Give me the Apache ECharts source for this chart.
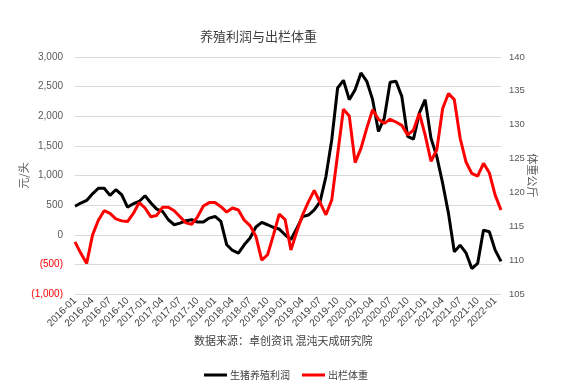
<!DOCTYPE html>
<html>
<head>
<meta charset="utf-8">
<script src="https://cdn.jsdelivr.net/npm/echarts@6/dist/echarts.min.js"></script>
<style>html,body{margin:0;padding:0;background:#fff}#c{width:576px;height:385px}</style>
</head>
<body>
<div id="c"></div>
<script>
const months = [
'2016-01','2016-02','2016-03','2016-04','2016-05','2016-06','2016-07','2016-08','2016-09','2016-10','2016-11','2016-12',
'2017-01','2017-02','2017-03','2017-04','2017-05','2017-06','2017-07','2017-08','2017-09','2017-10','2017-11','2017-12',
'2018-01','2018-02','2018-03','2018-04','2018-05','2018-06','2018-07','2018-08','2018-09','2018-10','2018-11','2018-12',
'2019-01','2019-02','2019-03','2019-04','2019-05','2019-06','2019-07','2019-08','2019-09','2019-10','2019-11','2019-12',
'2020-01','2020-02','2020-03','2020-04','2020-05','2020-06','2020-07','2020-08','2020-09','2020-10','2020-11','2020-12',
'2021-01','2021-02','2021-03','2021-04','2021-05','2021-06','2021-07','2021-08','2021-09','2021-10','2021-11','2021-12',
'2022-01','2022-02'];
const profit = [
480,535,580,690,785,785,665,760,675,467,523,562,
658,535,433,393,253,169,197,236,253,214,214,281,
309,225,-169,-265,-309,-169,-56,130,208,169,123,96,
0,-80,107,305,333,418,559,982,1603,2477,2607,2280,
2449,2731,2590,2280,1744,1969,2573,2590,2336,1659,1614,2054,
2280,1631,1321,869,361,-288,-175,-305,-570,-485,79,51,
-260,-450];
const weight = [
112.7,111.0,109.5,113.7,115.9,117.3,116.9,116.1,115.8,115.7,116.9,118.5,
117.7,116.4,116.6,117.8,117.8,117.3,116.4,115.5,115.3,116.4,118.0,118.5,
118.5,117.9,117.1,117.7,117.4,115.9,115.1,113.5,110.0,110.8,113.7,116.8,
116.0,111.5,114.2,116.7,118.6,120.3,118.5,116.7,118.9,125.6,132.3,131.3,
124.4,126.5,129.5,132.2,130.8,130.2,130.8,130.4,129.9,128.5,129.2,131.7,
128.5,124.6,126.3,132.4,134.6,133.7,128.0,124.5,122.8,122.4,124.3,122.9,
119.6,117.4];
const seriesNames = ['生猪养殖利润','出栏体重'];
const titleText = '养殖利润与出栏体重';
const sourceText = '数据来源：卓创资讯 混沌天成研究院';

const cjk = '"Noto Sans CJK SC", sans-serif';
const num = '"Liberation Sans", Arial, sans-serif';
const chart = echarts.init(document.getElementById('c'), null, {renderer:'canvas'});
chart.setOption({
  animation:false,
  title:{text:titleText,left:195,top:25,textStyle:{fontFamily:cjk,fontSize:13,fontWeight:'normal',color:'#404040'}},
  graphic:[{type:'text',left:194,top:335,style:{text:sourceText,font:'11px "Noto Sans CJK SC"',fill:'#404040'}}],
  legend:{left:199,top:365,itemWidth:23,itemHeight:3,itemGap:12,icon:'rect',
    textStyle:{fontFamily:cjk,fontSize:10,color:'#404040',padding:[0,0,0,-2]},
    data:seriesNames},
  grid:{left:75,right:75,top:57,bottom:91,containLabel:false},
  xAxis:{type:'category',data:months,boundaryGap:false,
    axisLine:{show:false},axisTick:{show:false},splitLine:{show:false},
    axisLabel:{interval:2,rotate:45,margin:5,fontFamily:num,fontSize:10,color:'#404040'}},
  yAxis:[
    {type:'value',min:-1000,max:3000,interval:500,position:'left',
     name:'元/头',nameLocation:'middle',nameGap:46,nameMoveOverlap:false,
     nameTextStyle:{fontFamily:cjk,fontSize:11,color:'#595959'},
     axisLine:{show:false},axisTick:{show:false},
     splitLine:{lineStyle:{color:'#d9d9d9',width:1}},
     axisLabel:{margin:12,fontFamily:num,fontSize:10,color:'#595959',
       formatter:function(v){
         const s=Math.abs(v).toLocaleString('en-US');
         return v<0?'{neg|('+s+')}':s;
       },
       rich:{neg:{color:'#ff0000',fontFamily:num,fontSize:10}}}},
    {type:'value',min:105,max:140,interval:5,position:'right',
     name:'体重公斤',nameLocation:'middle',nameGap:26,nameRotate:-90,nameMoveOverlap:false,
     nameTextStyle:{fontFamily:cjk,fontSize:11,color:'#595959'},
     axisLine:{show:false},axisTick:{show:false},splitLine:{show:false},
     axisLabel:{margin:8,fontFamily:num,fontSize:9.5,color:'#595959'}}
  ],
  series:[
    {name:seriesNames[0],type:'line',data:profit,yAxisIndex:0,showSymbol:false,
     lineStyle:{color:'#000000',width:3},itemStyle:{color:'#000000'}},
    {name:seriesNames[1],type:'line',data:weight,yAxisIndex:1,showSymbol:false,
     lineStyle:{color:'#ff0000',width:3},itemStyle:{color:'#ff0000'}}
  ]
});
</script>
</body>
</html>
